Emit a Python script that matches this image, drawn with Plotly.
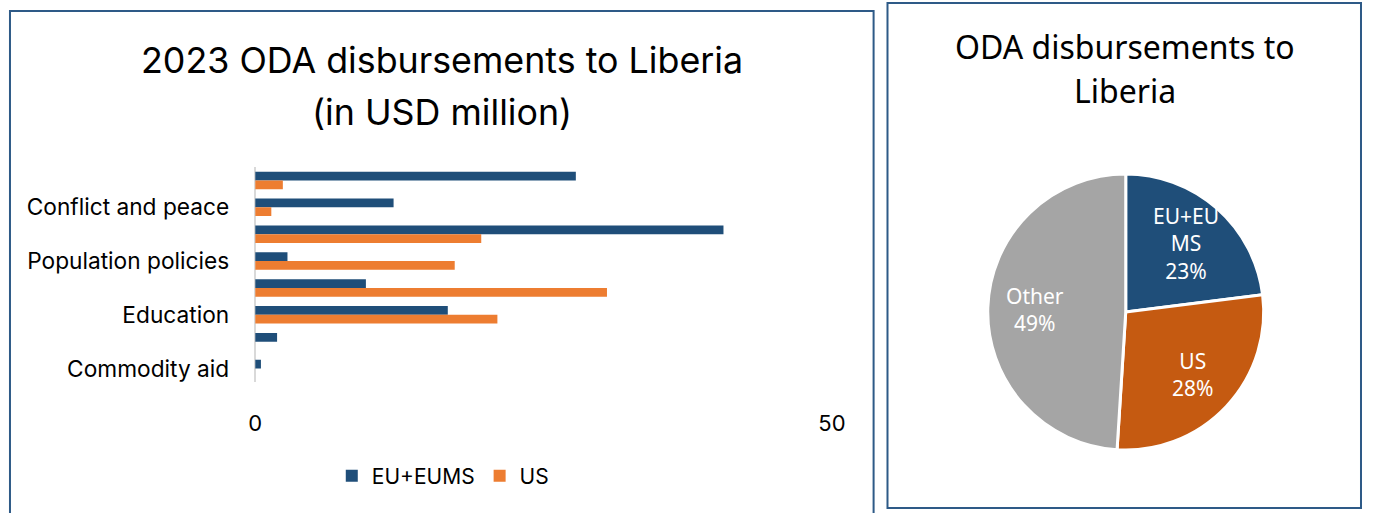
import math
import plotly.graph_objects as go

# Sector breakdown, 2023 ODA disbursements to Liberia (USD million), top to bottom
sectors = [
    "Government and civil society",
    "Conflict and peace",
    "Health",
    "Population policies",
    "Agriculture",
    "Education",
    "Water and sanitation",
    "Commodity aid",
]
shown_labels = ["Conflict and peace", "Population policies", "Education", "Commodity aid"]
eu_values = [27.8, 12.0, 40.6, 2.8, 9.6, 16.7, 1.9, 0.5]
us_values = [2.4, 1.4, 19.6, 17.3, 30.5, 21.0, 0.0, 0.0]

# Donor shares of total ODA disbursements (%)
donors = ["EU+EU MS", "US", "Other"]
donor_text = ["EU+EU<br>MS", "US", "Other"]
donor_shares = [23, 28, 49]

W, H = 1374, 513
EU_BLUE = "#1f4e79"
US_ORANGE = "#ed7d31"
PIE_ORANGE = "#c55a11"
GREY = "#a5a5a5"
FRAME = "#2e5a87"
LEFT_FONT = "Inter"
RIGHT_FONT = "Noto Sans"


# screen-pixel helpers for paper coordinates
def px_x(v):
    return (v - 3) / 1363


def px_y(v):
    return 1 - v / H


fig = go.Figure()

fig.add_trace(go.Bar(
    name="EU+EUMS", y=sectors, x=eu_values, orientation="h",
    marker=dict(color=EU_BLUE, line=dict(width=0)),
))
fig.add_trace(go.Bar(
    name="US", y=sectors, x=us_values, orientation="h",
    marker=dict(color=US_ORANGE, line=dict(width=0)),
))

# pie placement (screen pixels)
PIE_CX, PIE_CY, PIE_R = 1130, 312, 139
fig.add_trace(go.Pie(
    labels=donors, values=donor_shares,
    textinfo="none",
    marker=dict(colors=[EU_BLUE, PIE_ORANGE, GREY], line=dict(color="white", width=3)),
    sort=False, direction="clockwise", rotation=0,
    domain=dict(x=[px_x(PIE_CX - PIE_R), px_x(PIE_CX + PIE_R)],
                y=[px_y(PIE_CY + PIE_R), px_y(PIE_CY - PIE_R)]),
    showlegend=False, hoverinfo="label+percent",
))

# slice labels placed along each slice's bisector
total = sum(donor_shares)
pie_labels = []
start = 0.0
for name, share in zip(donor_text, donor_shares):
    mid = (start + share / 2) / total * 2 * math.pi
    start += share
    d = 0.66 * PIE_R
    lx = PIE_CX + d * math.sin(mid)
    ly = PIE_CY - d * math.cos(mid)
    pie_labels.append(dict(
        text=f"{name}<br>{round(share / total * 100)}%",
        xref="paper", yref="paper", x=px_x(lx), y=px_y(ly),
        xanchor="center", yanchor="middle", showarrow=False, align="center",
        font=dict(family=RIGHT_FONT, size=21, color="white"),
    ))

fig.update_layout(
    width=W, height=H,
    margin=dict(l=0, r=0, t=0, b=0),
    paper_bgcolor="white", plot_bgcolor="white",
    barmode="group", bargap=0.35, bargroupgap=0,
    font=dict(family=LEFT_FONT, color="#000000"),
    xaxis=dict(
        domain=[px_x(253), px_x(834)], range=[0, 50],
        tickvals=[0, 50], showgrid=True, gridcolor="#d9d9d9", gridwidth=2,
        zeroline=True, zerolinecolor="#d9d9d9", zerolinewidth=2,
        showline=False, ticks="", ticklabelstandoff=26,
        tickfont=dict(family=LEFT_FONT, size=22, color="#000000"),
        fixedrange=True,
    ),
    yaxis=dict(
        domain=[px_y(382), px_y(167)], autorange="reversed",
        type="category", tickvals=shown_labels, ticktext=shown_labels,
        showgrid=False, zeroline=False, showline=False, ticks="",
        ticklabelstandoff=25,
        tickfont=dict(family=LEFT_FONT, size=22.7, color="#000000"),
        fixedrange=True,
    ),
    legend=dict(
        orientation="h", x=px_x(442), xanchor="center", y=px_y(476), yanchor="middle",
        font=dict(family=LEFT_FONT, size=21, color="#000000"),
        itemwidth=30, tracegroupgap=0, bgcolor="rgba(0,0,0,0)",
    ),
    shapes=[
        dict(type="rect", xref="paper", yref="paper",
             x0=px_x(6), x1=px_x(876), y0=px_y(530), y1=px_y(11),
             line=dict(color=FRAME, width=2), fillcolor="rgba(0,0,0,0)", layer="below"),
        dict(type="rect", xref="paper", yref="paper",
             x0=px_x(890), x1=px_x(1367), y0=px_y(508), y1=px_y(3),
             line=dict(color=FRAME, width=2), fillcolor="rgba(0,0,0,0)", layer="below"),
    ],
    annotations=[
        dict(text="2023 ODA disbursements to Liberia",
             xref="paper", yref="paper", x=px_x(441), y=px_y(60),
             xanchor="center", yanchor="middle", showarrow=False,
             font=dict(family=LEFT_FONT, size=35.8, color="#000000")),
        dict(text="(in USD million)",
             xref="paper", yref="paper", x=px_x(441), y=px_y(112),
             xanchor="center", yanchor="middle", showarrow=False,
             font=dict(family=LEFT_FONT, size=35.8, color="#000000")),
        dict(text="ODA disbursements to",
             xref="paper", yref="paper", x=px_x(1129), y=px_y(46),
             xanchor="center", yanchor="middle", showarrow=False,
             font=dict(family=RIGHT_FONT, size=32, color="#000000")),
        dict(text="Liberia",
             xref="paper", yref="paper", x=px_x(1129), y=px_y(90),
             xanchor="center", yanchor="middle", showarrow=False,
             font=dict(family=RIGHT_FONT, size=32, color="#000000")),
    ] + pie_labels,
)

fig.write_html("out.html")
